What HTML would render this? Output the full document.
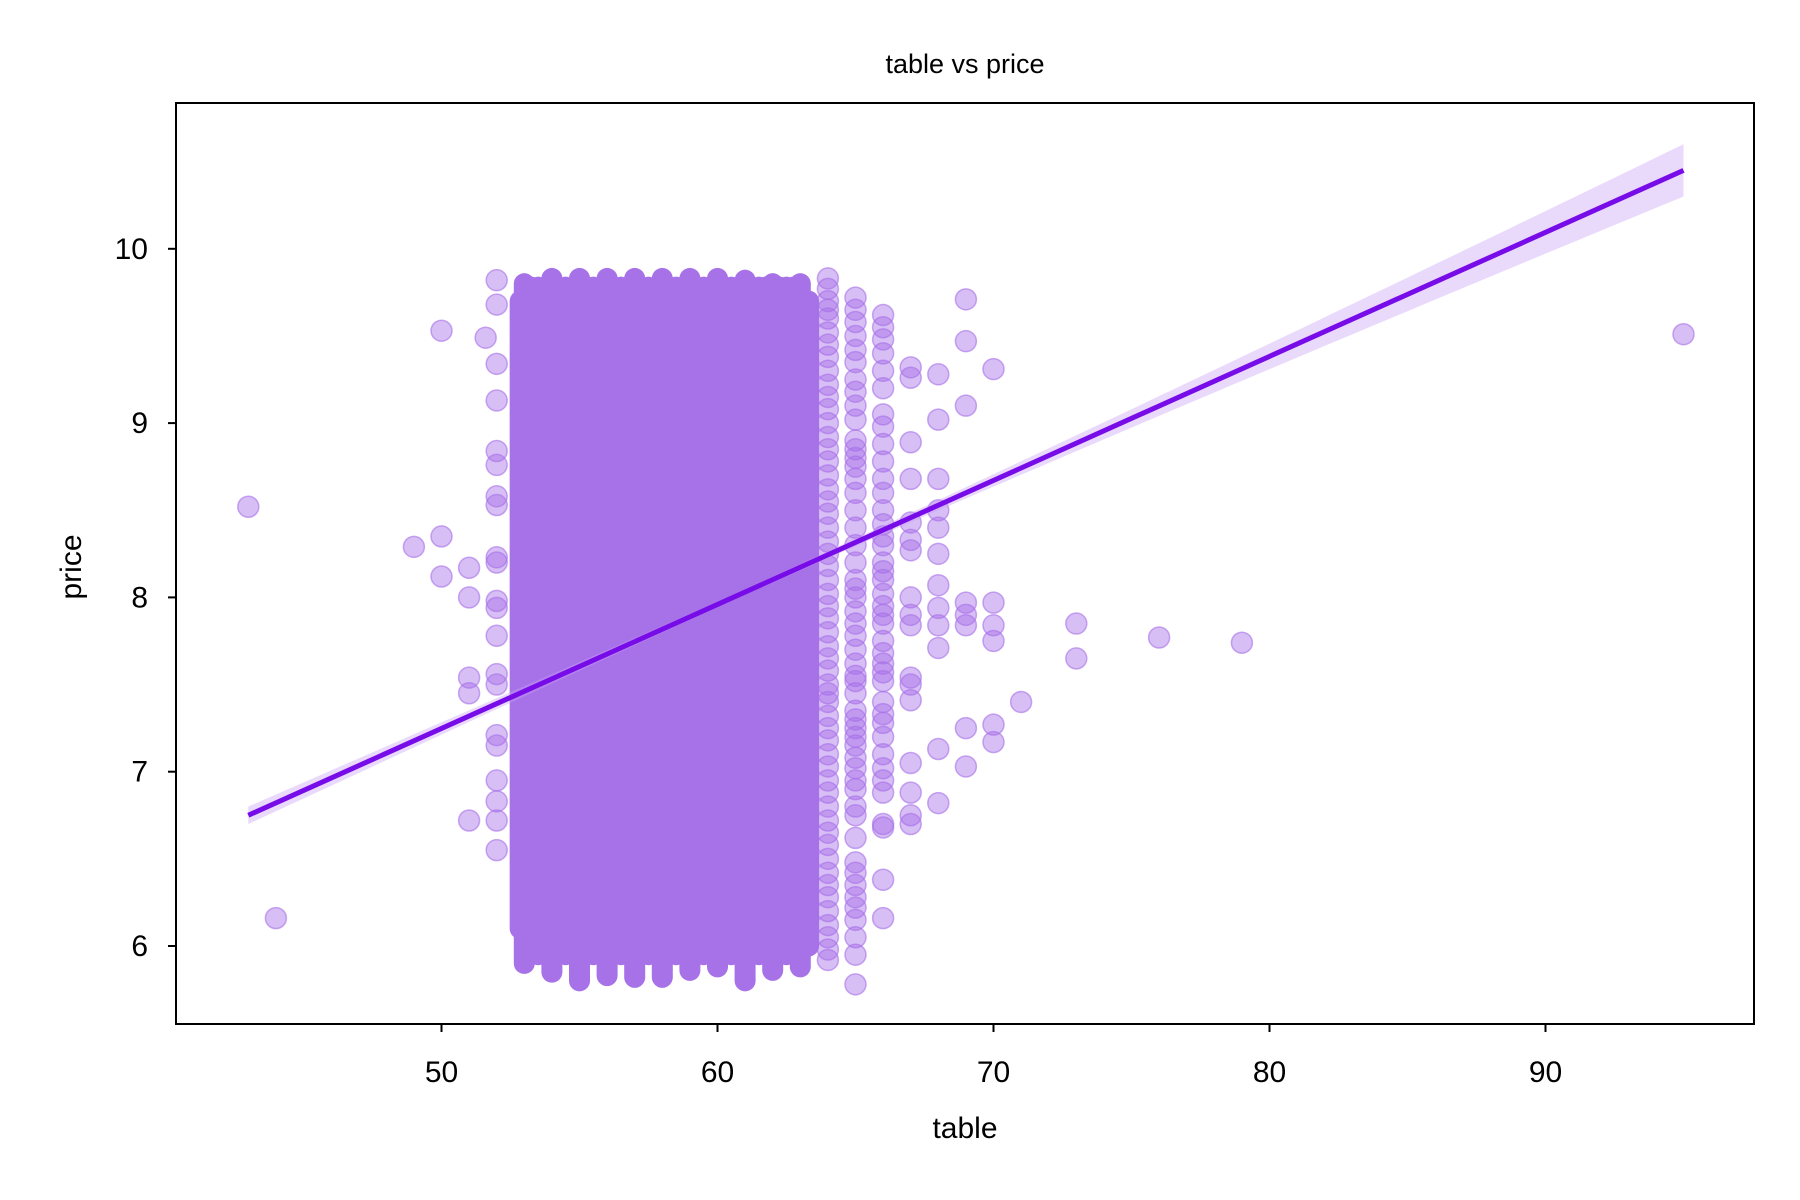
<!DOCTYPE html>
<html><head><meta charset="utf-8"><style>
body{margin:0;background:#fff}
svg{display:block;font-family:"Liberation Sans",sans-serif}
</style></head><body>
<svg id="chart" width="1800" height="1200" viewBox="0 0 1800 1200">
<rect width="1800" height="1200" fill="#fff"/>
<text x="965" y="73" font-size="27" text-anchor="middle">table vs price</text>
<g id="plot"></g>
<rect x="176" y="103" width="1578" height="921" fill="none" stroke="#000" stroke-width="2"/>
<g id="axes"></g>
<text x="965" y="1138" font-size="30" text-anchor="middle">table</text>
<text transform="translate(81,567) rotate(-90)" font-size="30" text-anchor="middle">price</text>
</svg>
<script>
const xTicks=[50,60,70,80,90];
const yTicks=[6,7,8,9,10];
const denseX=[52.85,53,53.25,53.5,53.75,54,54.25,54.5,54.75,55,55.25,55.5,55.75,56,56.25,56.5,56.75,57,57.25,57.5,57.75,58,58.25,58.5,58.75,59,59.25,59.5,59.75,60,60.25,60.5,60.75,61,61.25,61.5,61.75,62,62.25,62.5,62.75,63,63.3];
const denseMin=[6.1,5.9,5.95,5.95,5.95,5.85,5.95,5.95,5.95,5.8,5.95,5.95,5.95,5.83,5.95,5.95,5.95,5.82,5.95,5.95,5.95,5.82,5.95,5.95,5.95,5.86,5.95,5.95,5.95,5.88,5.95,5.95,5.95,5.8,5.95,5.95,5.95,5.86,5.95,5.95,5.95,5.88,6.0];
const denseMax=[9.7,9.8,9.78,9.78,9.78,9.83,9.78,9.78,9.78,9.83,9.78,9.78,9.78,9.83,9.78,9.78,9.78,9.83,9.78,9.78,9.78,9.83,9.78,9.78,9.78,9.83,9.78,9.78,9.78,9.83,9.78,9.78,9.78,9.82,9.78,9.78,9.78,9.8,9.78,9.78,9.78,9.8,9.7];
const ptX=[43,44,50,50,49,50,51,51,51.6,51,51,51,
52,52,52,52,52,52,52,52,52,52,52,52,52,52,52,52,52,52,52,52,52,
64,64,64,64,64,64,64,64,64,64,64,64,64,64,64,64,64,64,64,64,64,64,64,64,64,64,64,64,
64,64,64,64,64,64,64,64,64,64,64,64,64,64,64,64,64,64,64,64,64,64,64,64,64,64,64,
65,65,65,65,65,65,65,65,65,65,65,65,65,65,65,65,65,65,65,65,65,65,65,65,65,65,65,65,65,65,65,65,
65,65,65,65,65,65,65,65,65,65,65,65,65,65,65,65,65,65,65,65,
66,66,66,66,66,66,66,66,66,66,66,66,66,66,66,66,66,66,66,66,66,66,66,66,66,66,66,66,
66,66,66,66,66,66,66,66,66,66,66,66,
67,67,67,67,67,67,67,67,67,67,67,67,67,67,67,67,67,
68,68,68,68,68,68,68,68,68,68,68,68,
69,69,69,69,69,69,69,69,
70,70,70,70,70,70,
71,73,73,76,79,95];
const ptY=[8.52,6.16,9.53,8.35,8.29,8.12,8.17,8.0,9.49,7.54,7.45,6.72,
9.82,9.68,9.34,9.13,8.84,8.76,8.58,8.53,8.23,8.20,7.98,7.94,7.78,7.56,7.50,7.21,7.15,6.95,6.83,6.72,6.55,
9.83,9.7,9.6,9.45,9.3,9.15,9.0,8.85,8.7,8.55,8.4,8.25,8.1,7.95,7.8,7.65,7.5,7.4,7.25,7.1,6.95,6.8,6.65,6.5,6.35,6.2,6.05,5.92,
9.77,9.65,9.52,9.38,9.22,9.08,8.92,8.78,8.62,8.48,8.32,8.18,8.02,7.88,7.72,7.58,7.45,7.32,7.18,7.03,6.88,6.72,6.58,6.42,6.28,6.12,5.98,
9.72,9.65,9.5,9.35,9.25,9.1,8.9,8.85,8.75,8.6,8.5,8.3,8.1,8.0,7.85,7.7,7.55,7.45,7.35,7.25,7.15,7.02,6.9,6.8,6.75,6.48,6.42,6.28,6.15,6.05,5.95,5.78,
9.58,9.42,9.18,9.02,8.8,8.68,8.4,8.2,8.05,7.92,7.78,7.62,7.52,7.3,7.2,7.08,6.95,6.62,6.35,6.22,
9.62,9.48,9.4,9.3,9.05,8.98,8.88,8.78,8.68,8.5,8.42,8.3,8.2,8.1,7.95,7.85,7.75,7.62,7.52,7.4,7.28,7.2,7.02,6.88,6.7,6.68,6.38,6.16,
9.55,9.2,8.6,8.35,8.15,8.02,7.9,7.68,7.57,7.33,7.1,6.95,
9.32,9.26,8.89,8.68,8.43,8.33,8.27,8.0,7.9,7.84,7.54,7.5,7.41,7.05,6.88,6.75,6.70,
9.28,9.02,8.68,8.50,8.40,8.25,8.07,7.94,7.84,7.71,7.13,6.82,
9.71,9.47,9.10,7.97,7.90,7.84,7.25,7.03,
9.31,7.97,7.84,7.75,7.27,7.17,
7.40,7.85,7.65,7.77,7.74,9.51];
const regX=[43,95];
const regY=[6.75,10.45];
const ciX=[43,60,95];
const ciHalf=[0.05,0.015,0.15];

const NS="http://www.w3.org/2000/svg";
const sx=v=>441.5+(v-50)*27.6;
const sy=v=>946-(v-6)*174.3;
const plot=document.getElementById('plot'),axes=document.getElementById('axes');
function mk(t,a,p){const e=document.createElementNS(NS,t);for(const k in a)e.setAttribute(k,a[k]);p.appendChild(e);return e;}
const R=10.5;
for(let i=0;i<ptX.length;i++){
 const c=mk('circle',{cx:sx(ptX[i]),cy:sy(ptY[i]),r:R,fill:'rgba(166,111,232,0.45)',stroke:'rgba(166,111,232,0.6)','stroke-width':1.5},plot);
 
 
}
for(let i=0;i<denseX.length;i++){
 const e=mk('line',{x1:sx(denseX[i]),x2:sx(denseX[i]),y1:sy(denseMin[i]),y2:sy(denseMax[i]),stroke:'#a772e8','stroke-width':2*R,'stroke-linecap':'round'},plot);
 
 
}
const slope=(regY[1]-regY[0])/(regX[1]-regX[0]);
const f=x=>regY[0]+slope*(x-regX[0]);
function half(x){if(x<=ciX[1])return ciHalf[0]+(ciHalf[1]-ciHalf[0])*(x-ciX[0])/(ciX[1]-ciX[0]);return ciHalf[1]+(ciHalf[2]-ciHalf[1])*Math.pow((x-ciX[1])/(ciX[2]-ciX[1]),1.5);}
let up=[],dn=[];
for(let x=regX[0];x<=regX[1]+1e-9;x+=0.5){up.push(sx(x)+','+sy(f(x)+half(x)));dn.unshift(sx(x)+','+sy(f(x)-half(x)));}
const band=mk('polygon',{points:up.concat(dn).join(' '),fill:'rgba(200,160,245,0.4)'},plot);


const rl=mk('line',{x1:sx(regX[0]),y1:sy(regY[0]),x2:sx(regX[1]),y2:sy(regY[1]),stroke:'#780ce8','stroke-width':5},plot);


xTicks.forEach(v=>{
 const t=mk('line',{x1:sx(v),x2:sx(v),y1:1024,y2:1032,stroke:'#000','stroke-width':2},axes);
 
 
 const l=mk('text',{x:sx(v),y:1082,'font-size':30,'text-anchor':'middle'},axes);l.textContent=v;
 
 
});
yTicks.forEach(v=>{
 const t=mk('line',{x1:168,x2:176,y1:sy(v),y2:sy(v),stroke:'#000','stroke-width':2},axes);
 
 
 const l=mk('text',{x:148,y:sy(v)+10,'font-size':30,'text-anchor':'end'},axes);l.textContent=v;
 
 
});
</script>
</body></html>
